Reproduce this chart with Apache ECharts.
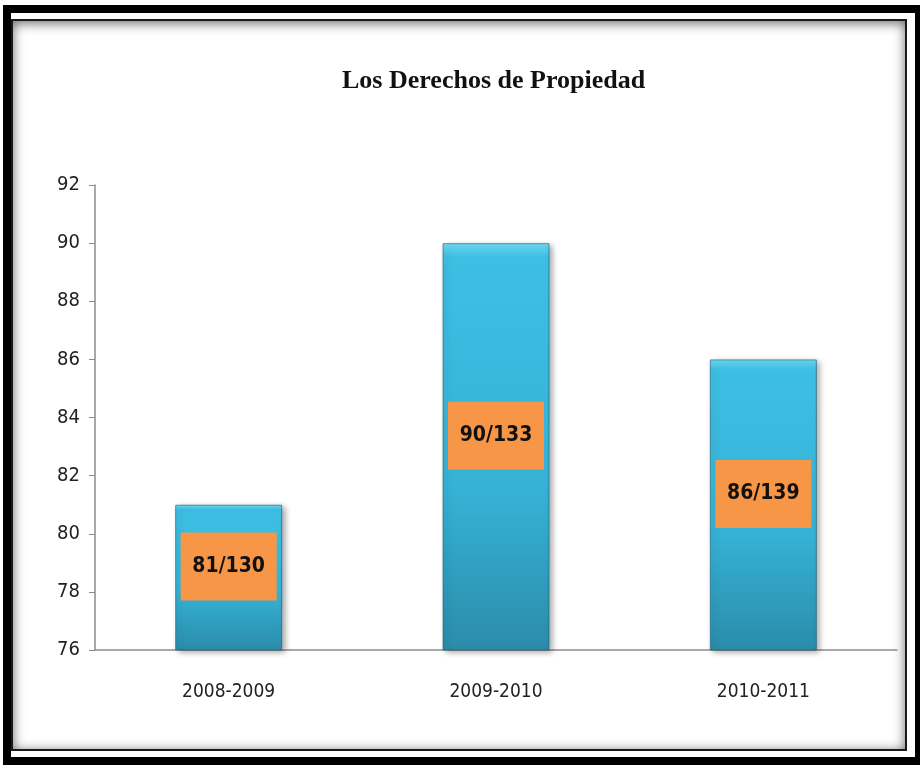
<!DOCTYPE html>
<html>
<head>
<meta charset="utf-8">
<script src="https://cdn.jsdelivr.net/npm/echarts@6/dist/echarts.min.js"></script>
<style>
  html, body { margin: 0; padding: 0; background: #fff; }
  #frame {
    position: absolute; left: 3px; top: 5px; width: 920px; height: 760px;
    box-sizing: border-box; border: 8px solid #000;
  }
  #inner {
    position: absolute; left: 11px; top: 19px; width: 896px; height: 732px;
    box-sizing: border-box; border: 2px solid #1a1a1a;
    box-shadow: inset 0 2px 12px rgba(0,0,0,0.6);
  }
  #chart { position: absolute; left: 0; top: 0; width: 920px; height: 765px; }
</style>
</head>
<body>
<div id="frame"></div>
<div id="inner"></div>
<div id="chart"></div>
<script>
  // periodos y posiciones en el ranking
  const categories = ['2008-2009', '2009-2010', '2010-2011'];
  const values = [81, 90, 86];
  const rankLabels = ['81/130', '90/133', '86/139'];

  const narrow = '"DejaVu Sans Condensed", "Liberation Sans Narrow", "Liberation Sans", sans-serif';

  const myChart = echarts.init(document.getElementById('chart'));
  const option = {
    backgroundColor: 'transparent',
    title: {
      text: 'Los Derechos de Propiedad',
      left: 337,
      top: 63,
      textStyle: {
        fontFamily: '"Liberation Serif", "DejaVu Serif", serif',
        fontSize: 26,
        fontWeight: 'bold',
        color: '#111'
      }
    },
    grid: { left: 95, right: 23, top: 185, bottom: 115 },
    xAxis: {
      type: 'category',
      data: categories,
      axisLine: { lineStyle: { color: '#8c8c8c', width: 1.5 } },
      axisTick: { length: 6, lineStyle: { color: '#8c8c8c' } },
      axisLabel: { margin: 33, fontFamily: narrow, fontSize: 19, color: '#222' }
    },
    yAxis: {
      type: 'value',
      min: 76, max: 92, interval: 2,
      splitLine: { show: false },
      axisLine: { show: true, lineStyle: { color: '#8c8c8c', width: 1.5 } },
      axisTick: { show: true, length: 6, lineStyle: { color: '#8c8c8c' } },
      axisLabel: { margin: 15, fontFamily: narrow, fontSize: 20, color: '#222' }
    },
    series: [{
      type: 'bar',
      data: values,
      barWidth: 107,
      itemStyle: {
        color: new echarts.graphic.LinearGradient(0, 0, 0, 1, [
          { offset: 0, color: '#6fdaf2' },
          { offset: 0.035, color: '#3dbfe3' },
          { offset: 0.6, color: '#35b2d6' },
          { offset: 1, color: '#2b8ca9' }
        ]),
        borderColor: 'rgba(20,90,115,0.6)',
        borderWidth: 1,
        shadowColor: 'rgba(0,0,0,0.35)',
        shadowBlur: 6,
        shadowOffsetX: 3,
        shadowOffsetY: 2
      },
      label: {
        show: true,
        position: 'inside',
        offset: [0, -11],
        formatter: p => rankLabels[p.dataIndex],
        backgroundColor: '#f79646',
        width: 96,
        height: 68,
        lineHeight: 68,
        align: 'center',
        color: '#111',
        fontFamily: narrow,
        fontWeight: 'bold',
        fontSize: 21
      }
    }]
  };
  myChart.setOption(option, true);
</script>
</body>
</html>
